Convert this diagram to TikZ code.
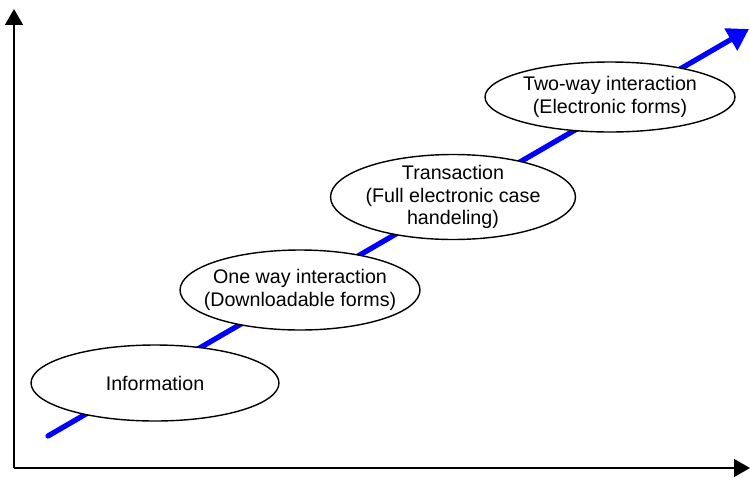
\documentclass[tikz,border=0pt]{standalone}
\usepackage{fontspec}
\setmainfont{Liberation Sans}
\usepackage{tikz}
\usetikzlibrary{arrows.meta,shapes.geometric}
\definecolor{stepblue}{RGB}{0, 0, 255}
\tikzset{
	bubble/.style = {ellipse, draw, thick, fill = white, inner xsep = -0.4cm, inner ysep = -0.1cm, align = center, font = \fontsize{11.2}{13}\selectfont}
}

\begin{document}
\begin{tikzpicture}[x = 0.02cm, y = -0.02cm]
		\useasboundingbox (0,0) rectangle (750,477);
		\coordinate (o) at (14,468);
		\coordinate (top) at (14,9);
		\coordinate (right) at (750,468);
		\coordinate (start) at (48,436);
		\coordinate (tip) at (749,29);
		\draw [line width = 1.3pt, -{Triangle[length = 9pt, width = 10pt]}] (o) -- (top);
		\draw [line width = 1.3pt, -{Triangle[length = 9pt, width = 10pt]}] (o) -- (right);
		\draw [stepblue, line width = 3pt, line cap = round, -{Triangle[length = 12pt, width = 14pt]}] (start) -- (tip);
		\node (info) at (155,383) [bubble, minimum width = 4.96cm, minimum height = 1.52cm] {Information};
		\node (one) at (300,290) [bubble, minimum width = 4.8cm, minimum height = 1.6cm] {One way interaction\\(Downloadable forms)};
		\node (trans) at (453,197) [bubble, minimum width = 4.9cm, minimum height = 1.7cm] {Transaction\\(Full electronic case\\handeling)};
		\node (two) at (610,97) [bubble, minimum width = 5cm, minimum height = 1.4cm] {Two-way interaction\\(Electronic forms)};
		\end{tikzpicture}
\end{document}
